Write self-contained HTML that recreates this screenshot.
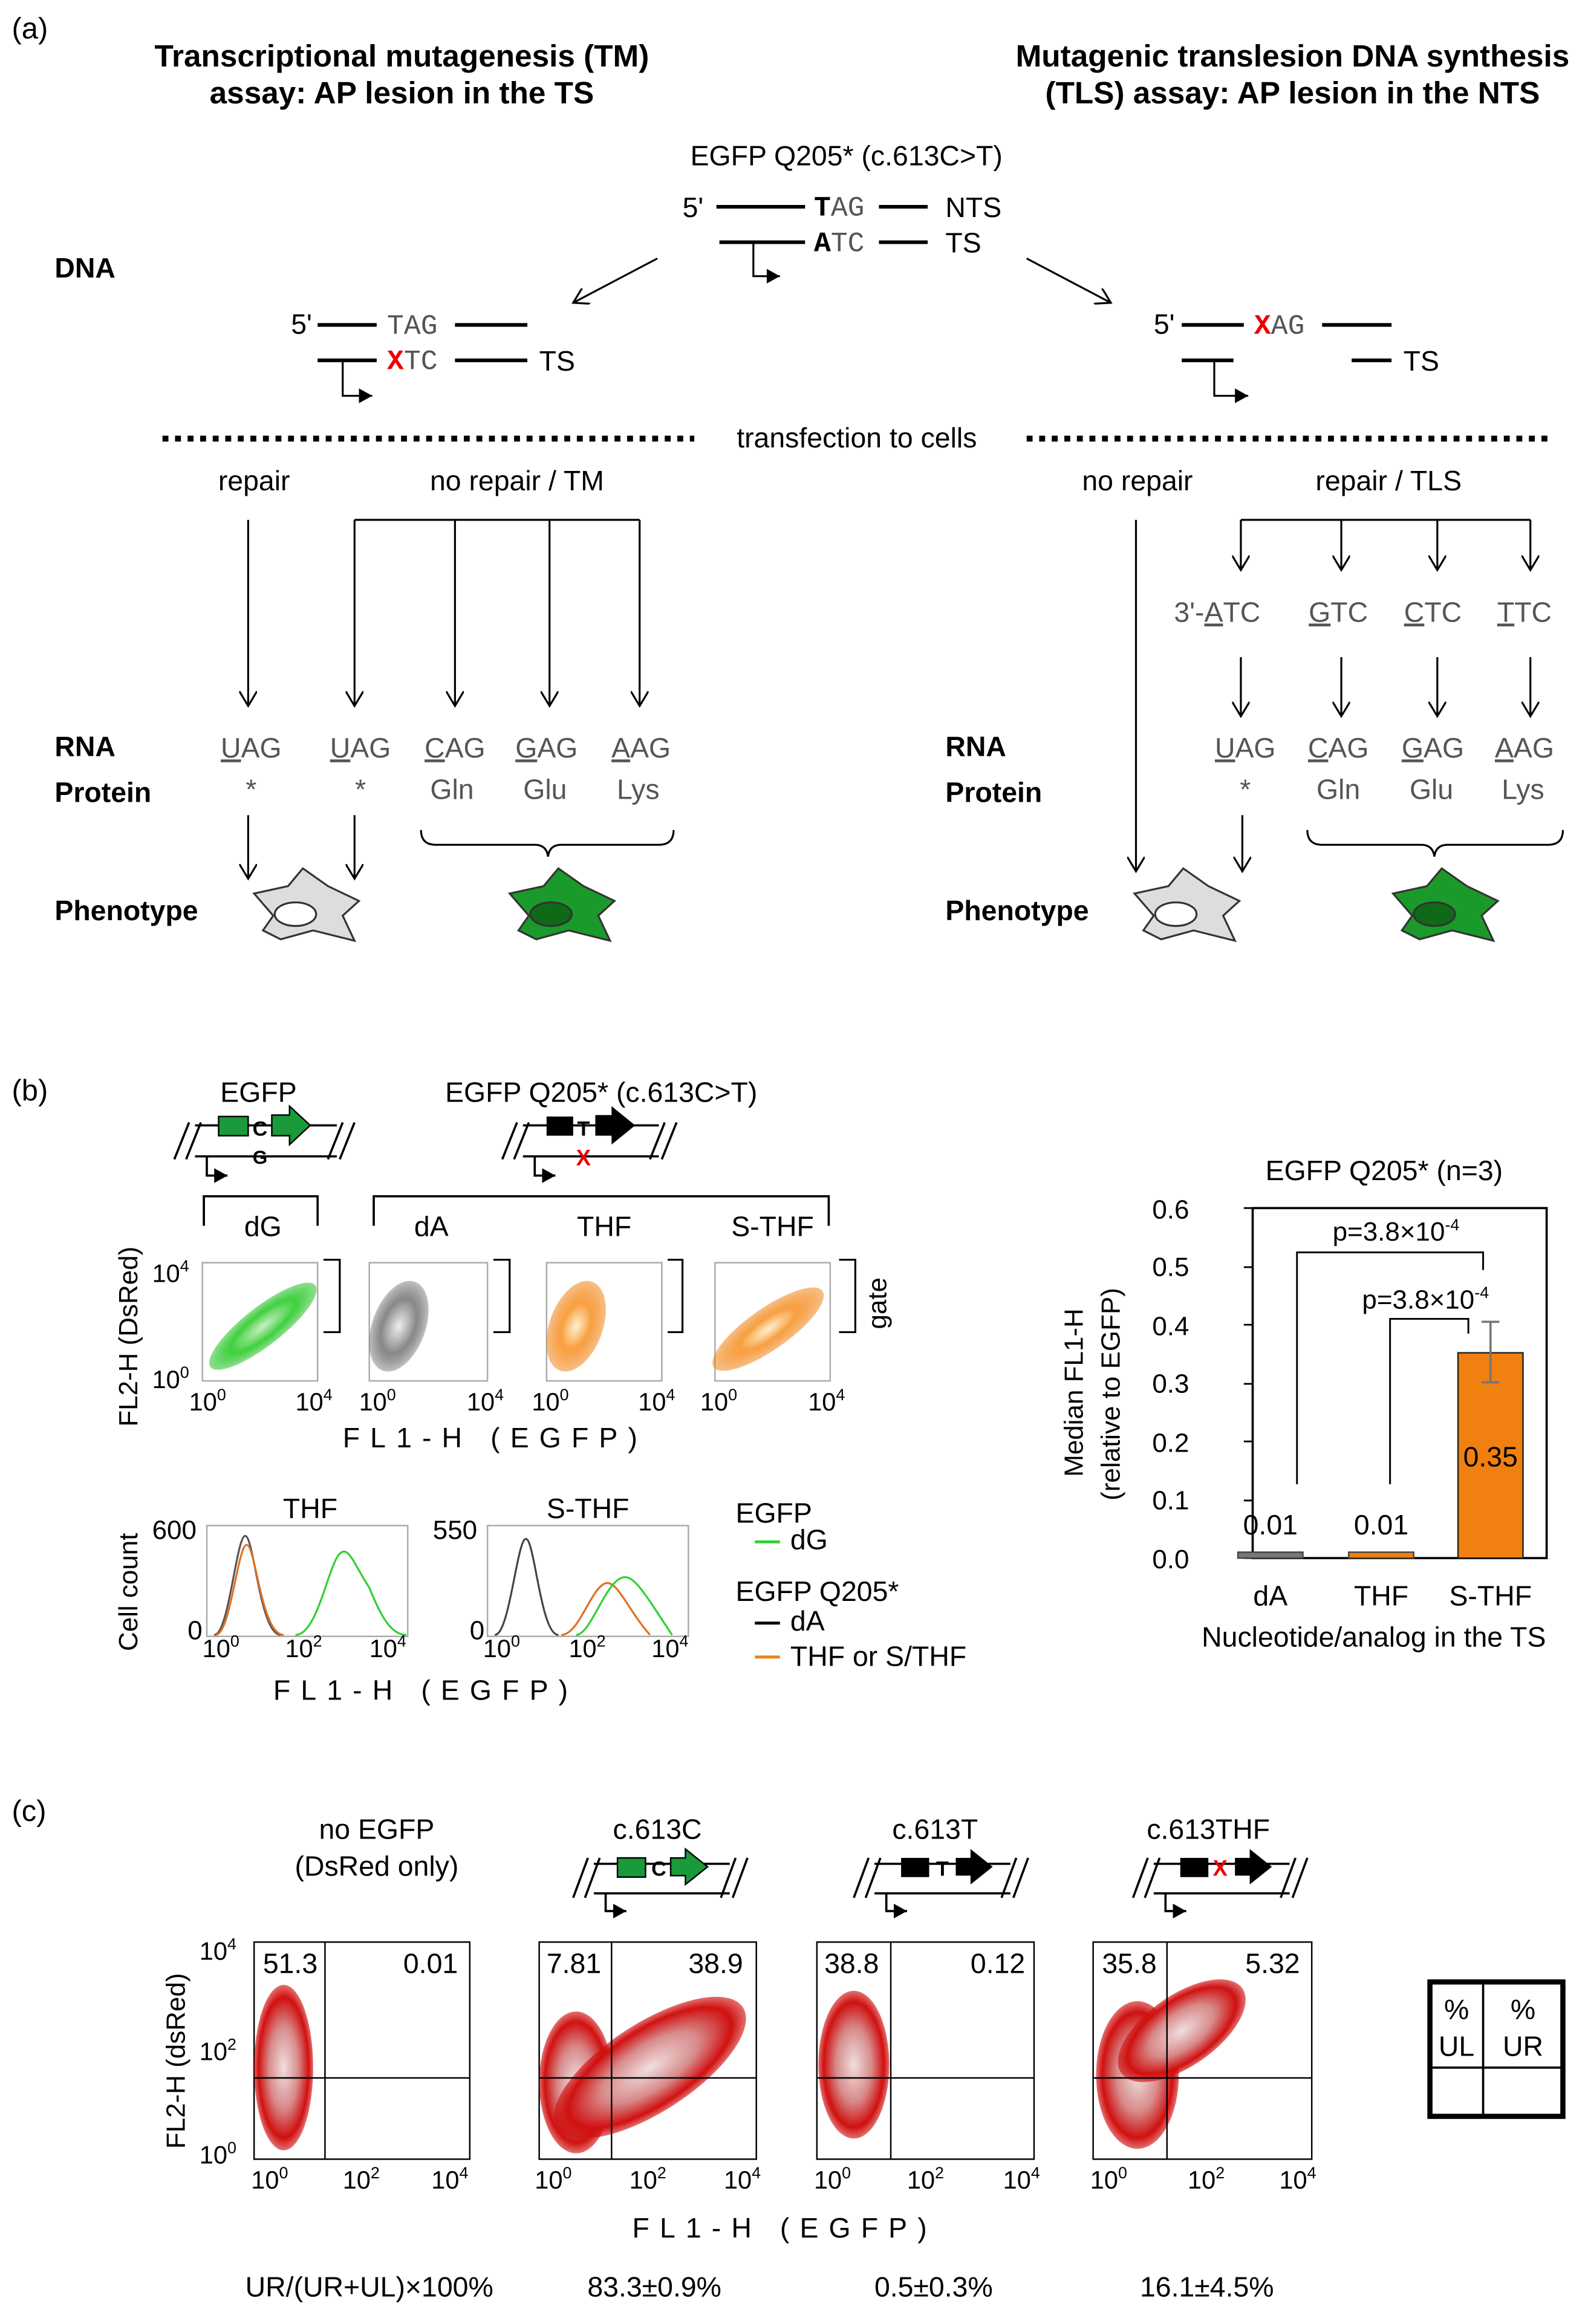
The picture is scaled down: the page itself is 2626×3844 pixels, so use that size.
<!DOCTYPE html>
<html><head><meta charset="utf-8"><style>
html,body{margin:0;padding:0;background:#fff}
svg{display:block}
text{font-family:"Liberation Sans",sans-serif}
.b{font-weight:bold}
.m{font-family:"Liberation Mono",monospace;fill:#555}
</style></head><body>
<svg width="2626" height="3844" viewBox="0 0 1075 1573.6" xmlns="http://www.w3.org/2000/svg">
<defs>
<marker id="a" markerWidth="12" markerHeight="12" refX="10" refY="6" orient="auto" markerUnits="userSpaceOnUse"><path d="M0,0 L10,6 L0,12" fill="none" stroke="#000" stroke-width="1.3"/></marker>
<marker id="f" markerWidth="10" markerHeight="10" refX="9" refY="5" orient="auto" markerUnits="userSpaceOnUse"><path d="M0,0 L9,5 L0,10z" fill="#000"/></marker>
<radialGradient id="gr" cx="0.5" cy="0.5" r="0.5"><stop offset="0" stop-color="#f0dede"/><stop offset="0.5" stop-color="#d88a8a"/><stop offset="0.85" stop-color="#d01010"/><stop offset="1" stop-color="#d01010" stop-opacity="0.6"/></radialGradient>
<radialGradient id="gg" cx="0.5" cy="0.5" r="0.5"><stop offset="0" stop-color="#c8f0c0"/><stop offset="0.6" stop-color="#40d040"/><stop offset="1" stop-color="#20c020" stop-opacity="0.5"/></radialGradient>
<radialGradient id="go" cx="0.5" cy="0.5" r="0.5"><stop offset="0" stop-color="#fff0d0"/><stop offset="0.5" stop-color="#f8a040"/><stop offset="1" stop-color="#f08010" stop-opacity="0.5"/></radialGradient>
<radialGradient id="gk" cx="0.5" cy="0.5" r="0.5"><stop offset="0" stop-color="#eee"/><stop offset="0.6" stop-color="#888"/><stop offset="1" stop-color="#666" stop-opacity="0.4"/></radialGradient>
</defs>
<g font-size="19">
<!-- (a) -->
<text x="8" y="26" font-size="20">(a)</text>
<text x="272" y="45" text-anchor="middle" class="b" font-size="21">Transcriptional mutagenesis (TM)</text>
<text x="272" y="70" text-anchor="middle" class="b" font-size="21">assay: AP lesion in the TS</text>
<text x="875" y="45" text-anchor="middle" class="b" font-size="21">Mutagenic translesion DNA synthesis</text>
<text x="875" y="70" text-anchor="middle" class="b" font-size="21">(TLS) assay: AP lesion in the NTS</text>
<text x="573" y="112" text-anchor="middle">EGFP Q205* (c.613C&gt;T)</text>
<g stroke="#000" stroke-width="2.5">
<line x1="485" y1="140" x2="545" y2="140"/><line x1="595" y1="140" x2="628" y2="140"/>
<line x1="487" y1="164" x2="545" y2="164"/><line x1="595" y1="164" x2="628" y2="164"/>
<line x1="215" y1="220" x2="255" y2="220"/><line x1="308" y1="220" x2="357" y2="220"/>
<line x1="215" y1="244" x2="255" y2="244"/><line x1="308" y1="244" x2="357" y2="244"/>
<line x1="800" y1="220" x2="842" y2="220"/><line x1="895" y1="220" x2="942" y2="220"/>
<line x1="800" y1="244" x2="835" y2="244"/><line x1="915" y1="244" x2="942" y2="244"/>
</g>
<text x="462" y="147">5'</text><text x="551" y="146" class="m"><tspan font-weight="bold" fill="#000">T</tspan>AG</text><text x="640" y="147">NTS</text>
<text x="551" y="170" class="m"><tspan font-weight="bold" fill="#000">A</tspan>TC</text><text x="640" y="171">TS</text>
<text x="197" y="226">5'</text><text x="262" y="226" class="m">TAG</text>
<text x="262" y="250" class="m"><tspan fill="#e00" font-weight="bold">X</tspan>TC</text><text x="365" y="251">TS</text>
<text x="781" y="226">5'</text><text x="849" y="226" class="m"><tspan fill="#e00" font-weight="bold">X</tspan>AG</text><text x="950" y="251">TS</text>
<g fill="none" stroke="#000" stroke-width="1.3">
<path d="M510,164 V187 H528" marker-end="url(#f)"/>
<path d="M232,244 V268 H252" marker-end="url(#f)"/>
<path d="M822,244 V268 H845" marker-end="url(#f)"/>
<line x1="445" y1="175" x2="388" y2="205" marker-end="url(#a)"/>
<line x1="695" y1="175" x2="752" y2="205" marker-end="url(#a)"/>
</g>
<text x="37" y="188" class="b">DNA</text>
<g stroke="#000" stroke-width="4" stroke-dasharray="4,4.5">
<line x1="110" y1="297" x2="470" y2="297"/><line x1="695" y1="297" x2="1048" y2="297"/>
</g>
<text x="580" y="303" text-anchor="middle">transfection to cells</text>
<text x="172" y="332" text-anchor="middle">repair</text>
<text x="350" y="332" text-anchor="middle">no repair / TM</text>
<text x="770" y="332" text-anchor="middle">no repair</text>
<text x="940" y="332" text-anchor="middle">repair / TLS</text>
<g fill="none" stroke="#000" stroke-width="1.3">
<line x1="240" y1="352" x2="433" y2="352"/>
<line x1="168" y1="352" x2="168" y2="478" marker-end="url(#a)"/>
<line x1="240" y1="352" x2="240" y2="478" marker-end="url(#a)"/>
<line x1="308" y1="352" x2="308" y2="478" marker-end="url(#a)"/>
<line x1="372" y1="352" x2="372" y2="478" marker-end="url(#a)"/>
<line x1="433" y1="352" x2="433" y2="478" marker-end="url(#a)"/>
<line x1="840" y1="352" x2="1036" y2="352"/>
<line x1="840" y1="352" x2="840" y2="386" marker-end="url(#a)"/>
<line x1="908" y1="352" x2="908" y2="386" marker-end="url(#a)"/>
<line x1="973" y1="352" x2="973" y2="386" marker-end="url(#a)"/>
<line x1="1036" y1="352" x2="1036" y2="386" marker-end="url(#a)"/>
<line x1="840" y1="445" x2="840" y2="485" marker-end="url(#a)"/>
<line x1="908" y1="445" x2="908" y2="485" marker-end="url(#a)"/>
<line x1="973" y1="445" x2="973" y2="485" marker-end="url(#a)"/>
<line x1="1036" y1="445" x2="1036" y2="485" marker-end="url(#a)"/>
<line x1="769" y1="352" x2="769" y2="590" marker-end="url(#a)"/>
<line x1="168" y1="552" x2="168" y2="595" marker-end="url(#a)"/>
<line x1="240" y1="552" x2="240" y2="595" marker-end="url(#a)"/>
<line x1="841" y1="552" x2="841" y2="590" marker-end="url(#a)"/>
<path d="M285,562 Q285,572 295,572 H362 Q370,572 371,580 Q372,572 380,572 H446 Q456,572 456,562"/>
<path d="M885,562 Q885,572 895,572 H962 Q970,572 971,580 Q972,572 980,572 H1048 Q1058,572 1058,562"/>
</g>
<g class="m" text-anchor="middle">
<text x="824" y="421">3'-<tspan text-decoration="underline">A</tspan>TC</text>
<text x="906" y="421"><tspan text-decoration="underline">G</tspan>TC</text>
<text x="970" y="421"><tspan text-decoration="underline">C</tspan>TC</text>
<text x="1032" y="421"><tspan text-decoration="underline">T</tspan>TC</text>
<text x="170" y="513"><tspan text-decoration="underline">U</tspan>AG</text>
<text x="244" y="513"><tspan text-decoration="underline">U</tspan>AG</text>
<text x="308" y="513"><tspan text-decoration="underline">C</tspan>AG</text>
<text x="370" y="513"><tspan text-decoration="underline">G</tspan>AG</text>
<text x="434" y="513"><tspan text-decoration="underline">A</tspan>AG</text>
<text x="170" y="541">*</text><text x="244" y="541">*</text><text x="306" y="541">Gln</text><text x="369" y="541">Glu</text><text x="432" y="541">Lys</text>
<text x="843" y="513"><tspan text-decoration="underline">U</tspan>AG</text>
<text x="906" y="513"><tspan text-decoration="underline">C</tspan>AG</text>
<text x="970" y="513"><tspan text-decoration="underline">G</tspan>AG</text>
<text x="1032" y="513"><tspan text-decoration="underline">A</tspan>AG</text>
<text x="843" y="541">*</text><text x="906" y="541">Gln</text><text x="969" y="541">Glu</text><text x="1031" y="541">Lys</text>
</g>
<text x="37" y="512" class="b">RNA</text><text x="37" y="543" class="b">Protein</text>
<text x="640" y="512" class="b">RNA</text><text x="640" y="543" class="b">Protein</text>
<text x="37" y="623" class="b">Phenotype</text><text x="640" y="623" class="b">Phenotype</text>
<g stroke="#333" stroke-width="1.3">
<path d="M172,605 L195,600 L205,588 L222,600 L243,610 L232,620 L240,637 L212,630 L190,636 L178,630 L185,620 Z" fill="#ddd"/>
<ellipse cx="200" cy="619" rx="14" ry="8" fill="#fff"/>
<path d="M345,605 L368,600 L378,588 L395,600 L416,610 L405,620 L413,637 L385,630 L363,636 L351,630 L358,620 Z" fill="#1a9a2a"/>
<ellipse cx="373" cy="619" rx="14" ry="8" fill="#0e6a18"/>
<path d="M768,605 L791,600 L801,588 L818,600 L839,610 L828,620 L836,637 L808,630 L786,636 L774,630 L781,620 Z" fill="#ddd"/>
<ellipse cx="796" cy="619" rx="14" ry="8" fill="#fff"/>
<path d="M943,605 L966,600 L976,588 L993,600 L1014,610 L1003,620 L1011,637 L983,630 L961,636 L949,630 L956,620 Z" fill="#1a9a2a"/>
<ellipse cx="971" cy="619" rx="14" ry="8" fill="#0e6a18"/>
</g>

<!-- (b) -->
<text x="8" y="745" font-size="20">(b)</text>
<text x="175" y="746" text-anchor="middle">EGFP</text>
<text x="407" y="746" text-anchor="middle">EGFP Q205* (c.613C&gt;T)</text>
<g stroke="#000" stroke-width="1.5" fill="none">
<path d="M118,785 L128,760 M126,785 L136,760 M222,785 L232,760 M230,785 L240,760"/>
<line x1="132" y1="762" x2="228" y2="762"/><line x1="132" y1="783" x2="228" y2="783"/>
<path d="M340,785 L350,760 M348,785 L358,760 M440,785 L450,760 M448,785 L458,760"/>
<line x1="354" y1="762" x2="446" y2="762"/><line x1="354" y1="783" x2="446" y2="783"/>
<path d="M140,783 V796 H154" marker-end="url(#f)"/>
<path d="M362,783 V796 H376" marker-end="url(#f)"/>
<path d="M138,830 V810 H215 V830 M253,830 V810 H561 V830"/>
</g>
<rect x="148" y="756" width="20" height="13" fill="#1a9a3a" stroke="#000"/>
<path d="M184,755 H196 V749 L210,762 L196,775 V769 H184 Z" fill="#1a9a3a" stroke="#000"/>
<text x="176" y="769" font-size="14" class="b" text-anchor="middle">C</text>
<text x="176" y="788" font-size="13" class="b" text-anchor="middle">G</text>
<rect x="370" y="756" width="18" height="13" fill="#000"/>
<path d="M403,755 H414 V749 L430,762 L414,775 V769 H403 Z" fill="#000"/>
<text x="395" y="769" font-size="14" class="b" text-anchor="middle">T</text>
<text x="395" y="789" font-size="15" class="b" fill="#e00" text-anchor="middle">X</text>
<text x="178" y="837" text-anchor="middle">dG</text><text x="292" y="837" text-anchor="middle">dA</text>
<text x="409" y="837" text-anchor="middle">THF</text><text x="523" y="837" text-anchor="middle">S-THF</text>
<text transform="translate(93,966) rotate(-90)" font-size="18">FL2-H (DsRed)</text>
<text x="103" y="868" font-size="17">10<tspan font-size="11" dy="-7">4</tspan></text>
<text x="103" y="940" font-size="17">10<tspan font-size="11" dy="-7">0</tspan></text>
<g fill="none" stroke="#aaa"><rect x="137" y="855" width="78" height="80"/><rect x="250" y="855" width="80" height="80"/><rect x="370" y="855" width="78" height="80"/><rect x="484" y="855" width="78" height="80"/></g>
<ellipse cx="178" cy="898" rx="45" ry="13" transform="rotate(-38 178 898)" fill="url(#gg)"/>
<ellipse cx="270" cy="898" rx="18" ry="32" transform="rotate(20 270 898)" fill="url(#gk)"/>
<ellipse cx="390" cy="898" rx="18" ry="32" transform="rotate(20 390 898)" fill="url(#go)"/>
<ellipse cx="520" cy="900" rx="45" ry="14" transform="rotate(-35 520 900)" fill="url(#go)"/>
<g fill="none" stroke="#000" stroke-width="1.3"><path d="M219,853 H230 V902 H219 M334,853 H345 V902 H334 M452,853 H462 V902 H452 M568,853 H579 V902 H568"/></g>
<text transform="translate(600,900) rotate(-90)" font-size="18">gate</text>
<g font-size="17">
<text x="128" y="955">10<tspan font-size="11" dy="-7">0</tspan></text><text x="200" y="955">10<tspan font-size="11" dy="-7">4</tspan></text>
<text x="243" y="955">10<tspan font-size="11" dy="-7">0</tspan></text><text x="316" y="955">10<tspan font-size="11" dy="-7">4</tspan></text>
<text x="360" y="955">10<tspan font-size="11" dy="-7">0</tspan></text><text x="432" y="955">10<tspan font-size="11" dy="-7">4</tspan></text>
<text x="474" y="955">10<tspan font-size="11" dy="-7">0</tspan></text><text x="547" y="955">10<tspan font-size="11" dy="-7">4</tspan></text>
</g>
<text x="232" y="980" letter-spacing="7">FL1-H  (EGFP)</text>
<text transform="translate(93,1118) rotate(-90)" font-size="18">Cell count</text>
<text x="210" y="1028" text-anchor="middle">THF</text><text x="398" y="1028" text-anchor="middle">S-THF</text>
<text x="103" y="1042" font-size="18">600</text><text x="127" y="1110" font-size="18">0</text>
<text x="293" y="1042" font-size="18">550</text><text x="318" y="1110" font-size="18">0</text>
<g fill="none" stroke="#aaa"><rect x="140" y="1033" width="136" height="75"/><rect x="330" y="1033" width="136" height="75"/></g>
<path d="M145,1107 C155,1107 160,1040 166,1040 C172,1040 176,1107 190,1107" fill="none" stroke="#555" stroke-width="1.3"/>
<path d="M146,1107 C156,1107 161,1046 167,1046 C173,1046 177,1107 192,1107" fill="none" stroke="#e07020" stroke-width="1.3"/>
<path d="M200,1107 C215,1107 222,1060 230,1052 C236,1046 240,1060 250,1075 C258,1095 265,1107 275,1107" fill="none" stroke="#30d030" stroke-width="1.3"/>
<path d="M335,1107 C345,1107 350,1042 356,1042 C362,1042 366,1107 378,1107" fill="none" stroke="#444" stroke-width="1.3"/>
<path d="M380,1107 C392,1107 400,1075 410,1072 C418,1070 425,1090 440,1107" fill="none" stroke="#e07020" stroke-width="1.3"/>
<path d="M390,1107 C400,1107 410,1070 422,1068 C430,1066 440,1085 455,1107" fill="none" stroke="#30d030" stroke-width="1.3"/>
<g font-size="17">
<text x="137" y="1122">10<tspan font-size="11" dy="-7">0</tspan></text><text x="193" y="1122">10<tspan font-size="11" dy="-7">2</tspan></text><text x="250" y="1122">10<tspan font-size="11" dy="-7">4</tspan></text>
<text x="327" y="1122">10<tspan font-size="11" dy="-7">0</tspan></text><text x="385" y="1122">10<tspan font-size="11" dy="-7">2</tspan></text><text x="441" y="1122">10<tspan font-size="11" dy="-7">4</tspan></text>
</g>
<text x="185" y="1151" letter-spacing="7">FL1-H  (EGFP)</text>
<text x="498" y="1031">EGFP</text>
<line x1="511" y1="1044" x2="528" y2="1044" stroke="#30d030" stroke-width="2"/><text x="535" y="1049">dG</text>
<text x="498" y="1084">EGFP Q205*</text>
<line x1="511" y1="1099" x2="528" y2="1099" stroke="#000" stroke-width="2"/><text x="535" y="1104">dA</text>
<line x1="511" y1="1122" x2="528" y2="1122" stroke="#f08010" stroke-width="2"/><text x="535" y="1128">THF or S/THF</text>
<!-- bar chart -->
<text x="937" y="799" text-anchor="middle">EGFP Q205* (n=3)</text>
<rect x="848" y="818" width="199" height="237" fill="none" stroke="#000" stroke-width="1.5"/>
<g font-size="18" text-anchor="end">
<text x="805" y="825">0.6</text><text x="805" y="864">0.5</text><text x="805" y="904">0.4</text><text x="805" y="943">0.3</text><text x="805" y="983">0.2</text><text x="805" y="1022">0.1</text><text x="805" y="1062">0.0</text>
</g>
<g stroke="#000" stroke-width="1.2"><path d="M842,818 H848 M842,858 H848 M842,897 H848 M842,937 H848 M842,976 H848 M842,1016 H848 M842,1055 H848"/></g>
<text transform="translate(733,1000) rotate(-90)" font-size="18">Median  FL1-H</text>
<text transform="translate(758,1016) rotate(-90)" font-size="18">(relative to EGFP)</text>
<rect x="838" y="1051" width="44" height="4" fill="#777" stroke="#444"/>
<rect x="913" y="1051" width="44" height="4" fill="#f08010" stroke="#444"/>
<rect x="987" y="916" width="44" height="139" fill="#f08010" stroke="#222"/>
<path d="M1009,895 V936 M1003,895 H1015 M1003,936 H1015" stroke="#777" stroke-width="1.5"/>
<text x="860" y="1039" text-anchor="middle">0.01</text><text x="935" y="1039" text-anchor="middle">0.01</text><text x="1009" y="993" text-anchor="middle">0.35</text>
<path d="M878,1005 V848 H1004 V860 M941,1005 V893 H994 V903" fill="none" stroke="#000" stroke-width="1.2"/>
<text x="945" y="840" font-size="18" text-anchor="middle">p=3.8×10<tspan font-size="11" dy="-7">-4</tspan></text>
<text x="965" y="886" font-size="18" text-anchor="middle">p=3.8×10<tspan font-size="11" dy="-7">-4</tspan></text>
<text x="860" y="1087" text-anchor="middle">dA</text><text x="935" y="1087" text-anchor="middle">THF</text><text x="1009" y="1087" text-anchor="middle">S-THF</text>
<text x="930" y="1115" text-anchor="middle">Nucleotide/analog in the TS</text>

<!-- (c) -->
<text x="8" y="1233" font-size="20">(c)</text>
<text x="255" y="1245" text-anchor="middle">no EGFP</text><text x="255" y="1270" text-anchor="middle">(DsRed only)</text>
<text x="445" y="1245" text-anchor="middle">c.613C</text><text x="633" y="1245" text-anchor="middle">c.613T</text><text x="818" y="1245" text-anchor="middle">c.613THF</text>
<g stroke="#000" stroke-width="1.5" fill="none">
<path d="M388,1285 L398,1258 M396,1285 L406,1258 M488,1285 L498,1258 M496,1285 L506,1258 M402,1262 H494 M402,1282 H494" />
<path d="M578,1285 L588,1258 M586,1285 L596,1258 M678,1285 L688,1258 M686,1285 L696,1258 M592,1262 H684 M592,1282 H684" />
<path d="M767,1285 L777,1258 M775,1285 L785,1258 M867,1285 L877,1258 M875,1285 L885,1258 M781,1262 H873 M781,1282 H873" />
<path d="M410,1282 V1294 H424" marker-end="url(#f)"/>
<path d="M600,1282 V1294 H614" marker-end="url(#f)"/>
<path d="M789,1282 V1294 H803" marker-end="url(#f)"/>
</g>
<rect x="418" y="1258" width="19" height="13" fill="#1a9a3a" stroke="#000"/><text x="446" y="1270" font-size="14" class="b" text-anchor="middle">C</text>
<path d="M454,1258 H464 V1252 L479,1264 L464,1276 V1270 H454 Z" fill="#1a9a3a" stroke="#000"/>
<rect x="610" y="1258" width="19" height="13" fill="#000"/><text x="638" y="1270" font-size="14" class="b" text-anchor="middle">T</text>
<path d="M647,1258 H657 V1252 L672,1264 L657,1276 V1270 H647 Z" fill="#000"/>
<rect x="799" y="1258" width="19" height="13" fill="#000"/><text x="826" y="1270" font-size="15" class="b" fill="#e00" text-anchor="middle">X</text>
<path d="M836,1258 H846 V1252 L861,1264 L846,1276 V1270 H836 Z" fill="#000"/>
<text transform="translate(125,1455) rotate(-90)" font-size="18">FL2-H (dsRed)</text>
<text x="135" y="1327" font-size="17">10<tspan font-size="11" dy="-7">4</tspan></text>
<text x="135" y="1395" font-size="17">10<tspan font-size="11" dy="-7">2</tspan></text>
<text x="135" y="1465" font-size="17">10<tspan font-size="11" dy="-7">0</tspan></text>
<g>
<rect x="172" y="1315" width="146" height="147" fill="none" stroke="#000"/>
<ellipse cx="192" cy="1400" rx="20" ry="56" fill="url(#gr)"/>
<line x1="172" y1="1407" x2="318" y2="1407" stroke="#000"/><line x1="220" y1="1315" x2="220" y2="1462" stroke="#000"/>
<text x="178" y="1336">51.3</text><text x="273" y="1336">0.01</text>
</g>
<g>
<rect x="365" y="1315" width="147" height="147" fill="none" stroke="#000"/>
<ellipse cx="390" cy="1410" rx="25" ry="48" fill="url(#gr)"/>
<ellipse cx="440" cy="1400" rx="75" ry="30" transform="rotate(-33 440 1400)" fill="url(#gr)"/>
<line x1="365" y1="1407" x2="512" y2="1407" stroke="#000"/><line x1="414" y1="1315" x2="414" y2="1462" stroke="#000"/>
<text x="370" y="1336">7.81</text><text x="466" y="1336">38.9</text>
</g>
<g>
<rect x="553" y="1315" width="147" height="147" fill="none" stroke="#000"/>
<ellipse cx="578" cy="1398" rx="24" ry="50" fill="url(#gr)"/>
<line x1="553" y1="1407" x2="700" y2="1407" stroke="#000"/><line x1="603" y1="1315" x2="603" y2="1462" stroke="#000"/>
<text x="558" y="1336">38.8</text><text x="657" y="1336">0.12</text>
</g>
<g>
<rect x="740" y="1315" width="148" height="147" fill="none" stroke="#000"/>
<ellipse cx="770" cy="1405" rx="28" ry="50" fill="url(#gr)"/>
<ellipse cx="800" cy="1375" rx="50" ry="24" transform="rotate(-35 800 1375)" fill="url(#gr)"/>
<line x1="740" y1="1407" x2="888" y2="1407" stroke="#000"/><line x1="790" y1="1315" x2="790" y2="1462" stroke="#000"/>
<text x="746" y="1336">35.8</text><text x="843" y="1336">5.32</text>
</g>
<g font-size="17">
<text x="170" y="1482">10<tspan font-size="11" dy="-7">0</tspan></text><text x="232" y="1482">10<tspan font-size="11" dy="-7">2</tspan></text><text x="292" y="1482">10<tspan font-size="11" dy="-7">4</tspan></text>
<text x="362" y="1482">10<tspan font-size="11" dy="-7">0</tspan></text><text x="426" y="1482">10<tspan font-size="11" dy="-7">2</tspan></text><text x="490" y="1482">10<tspan font-size="11" dy="-7">4</tspan></text>
<text x="551" y="1482">10<tspan font-size="11" dy="-7">0</tspan></text><text x="614" y="1482">10<tspan font-size="11" dy="-7">2</tspan></text><text x="679" y="1482">10<tspan font-size="11" dy="-7">4</tspan></text>
<text x="738" y="1482">10<tspan font-size="11" dy="-7">0</tspan></text><text x="804" y="1482">10<tspan font-size="11" dy="-7">2</tspan></text><text x="866" y="1482">10<tspan font-size="11" dy="-7">4</tspan></text>
</g>
<text x="428" y="1515" letter-spacing="7">FL1-H  (EGFP)</text>
<rect x="968" y="1342" width="90" height="91" fill="none" stroke="#000" stroke-width="3.5"/>
<path d="M1004,1342 V1433 M968,1400 H1058" stroke="#000" stroke-width="1.5"/>
<text x="986" y="1367" text-anchor="middle">%</text><text x="986" y="1392" text-anchor="middle">UL</text>
<text x="1031" y="1367" text-anchor="middle">%</text><text x="1031" y="1392" text-anchor="middle">UR</text>
<text x="250" y="1555" text-anchor="middle">UR/(UR+UL)×100%</text>
<text x="443" y="1555" text-anchor="middle">83.3±0.9%</text>
<text x="632" y="1555" text-anchor="middle">0.5±0.3%</text>
<text x="817" y="1555" text-anchor="middle">16.1±4.5%</text>
</g>
</svg>
</body></html>
